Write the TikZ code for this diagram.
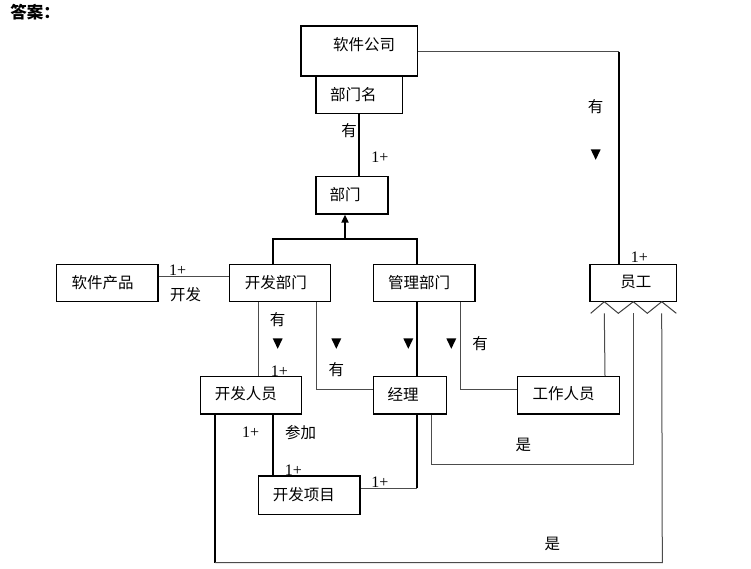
\documentclass[tikz,border=0pt]{standalone}
\usepackage{fontspec}
\setmainfont{Noto Sans CJK SC}
\newfontfamily\numfont{Liberation Serif}
\usetikzlibrary{arrows.meta,fit}
\begin{document}
\begin{tikzpicture}[x=1pt,y=-1pt,
  box/.style={draw=black,line width=1.2pt,inner sep=0pt,rectangle},
  txt/.style={inner sep=0pt,font=\fontsize{15.5}{18}\selectfont},
  num/.style={inner sep=0pt,font=\numfont\fontsize{16}{17}\selectfont},
  ln/.style={draw=black!70,line width=1pt},
  tk/.style={draw=black,line width=1.8pt},
  dtri/.pic={\fill[black] (-5,-5) -- (5,-5) -- (0,5.5) -- cycle;}]
\useasboundingbox[fill=white] (0,0) rectangle (751,568);
% title
\node[inner sep=0pt,font=\fontsize{16.5}{18}\selectfont\bfseries] (title) at (35,12) {答案：};
% boxes
\node[box,fit={(301,26) (417.7,76)}] (rjgs) {};
\node[txt] (trjgs) at (364,45) {软件公司};
\node[box,fit={(316,76) (402.7,113.7)}] (bmm) {};
\node[txt] (tbmm) at (353.3,95) {部门名};
\node[box,fit={(316,176.7) (388,214)}] (bm) {};
\node[txt] (tbm) at (345,195) {部门};
\node[box,fit={(56.7,264.3) (158,301.7)}] (rjcp) {};
\node[txt] (trjcp) at (102.5,282.7) {软件产品};
\node[box,fit={(229.3,264.3) (330.7,301.7)}] (kfbm) {};
\node[txt] (tkfbm) at (275.8,282.7) {开发部门};
\node[box,fit={(373.3,264.3) (475,301.7)}] (glbm) {};
\node[txt] (tglbm) at (419.2,282.7) {管理部门};
\node[box,fit={(590,264.3) (676.3,301.7)}] (yg) {};
\node[txt] (tyg) at (635.8,281.7) {员工};
\node[box,fit={(200.7,376.7) (301.7,414)}] (kfry) {};
\node[txt] (tkfry) at (245.8,394) {开发人员};
\node[box,fit={(373.3,376.7) (446.3,414)}] (jl) {};
\node[txt] (tjl) at (403,394) {经理};
\node[box,fit={(517.7,376.7) (619.3,414)}] (gzry) {};
\node[txt] (tgzry) at (563.7,394) {工作人员};
\node[box,fit={(258.3,476) (360,514.3)}] (kfxm) {};
\node[txt] (tkfxm) at (303.8,495) {开发项目};
% generalization triangles under 员工
\coordinate (t1) at (604.3,313.3);
\coordinate (t2) at (633.3,313.3);
\coordinate (t3) at (661.7,313.3);
\draw[line width=1pt,black!75] (590.7,313.3) -- (604.3,301.7) -- (618.3,313.3) -- (633.3,301.7) -- (647.3,313.3) -- (661.7,301.7) -- (676.3,313.3);
% connectors
\draw[tk] (359.3,0 |- bmm.south) -- (359.3,0 |- bm.north);
\draw[tk] (272.7,0 |- kfbm.north) -- (272.7,239) -- (417.3,239) -- (417.3,0 |- glbm.north);
\draw[tk,-{Triangle[width=7pt,length=8pt]}] (345,239) -- (345,0 |- bm.south);
\draw[ln] (rjcp.east |- 0,276) -- (kfbm.west |- 0,276);
\draw[ln] (258.7,0 |- kfbm.south) -- (258.7,0 |- kfry.north);
\draw[ln] (316,0 |- kfbm.south) -- (316,389.3) -- (jl.west |- 0,389.3);
\draw[tk] (417.3,0 |- glbm.south) -- (417.3,0 |- jl.north);
\draw[ln] (460.7,0 |- glbm.south) -- (460.7,389.3) -- (gzry.west |- 0,389.3);
\draw[tk] (272.7,0 |- kfry.south) -- (272.7,0 |- kfxm.north);
\draw[tk] (417.3,0 |- jl.south) -- (417.3,488.3);
\draw[ln] (417.3,488.3) -- (kfxm.east |- 0,488.3);
\draw[ln] (431.7,0 |- jl.south) -- (431.7,464) -- (633.3,464) -- (t2);
\draw[tk] (215,0 |- kfry.south) -- (215,562.7);
\draw[ln] (215,562.7) -- (662.3,562.7) -- (t3);
\draw[ln] (605,0 |- gzry.north) -- (t1);
\draw[ln] (rjgs.east |- 0,51.7) -- (619,51.7);
\draw[tk] (619,51.7) -- (619,0 |- yg.north);
% labels
\node[txt] (l1) at (349,131) {有};
\node[num] (n1) at (380,157.7) {1+};
\node[txt] (l2) at (595.7,106.7) {有};
\pic at (595.7,154.3) {dtri};
\node[num] (n2) at (639.3,257.3) {1+};
\node[num] (n3) at (177.7,270.7) {1+};
\node[txt] (l3) at (185.7,295) {开发};
\node[txt] (l4) at (277.7,319.3) {有};
\pic at (277.7,343.3) {dtri};
\node[num] (n4) at (279.3,371) {1+};
\pic at (336.3,343.3) {dtri};
\node[txt] (l5) at (336.3,369.3) {有};
\pic at (408.3,343.3) {dtri};
\pic at (451.3,343.3) {dtri};
\node[txt] (l6) at (480,343.3) {有};
\node[num] (n5) at (250.7,432.3) {1+};
\node[txt] (l7) at (300.7,432.3) {参加};
\node[num] (n6) at (293.3,470) {1+};
\node[num] (n7) at (380,482.3) {1+};
\node[txt] (l8) at (523.3,445) {是};
\node[txt] (l9) at (552.3,544) {是};
\end{tikzpicture}
\end{document}
